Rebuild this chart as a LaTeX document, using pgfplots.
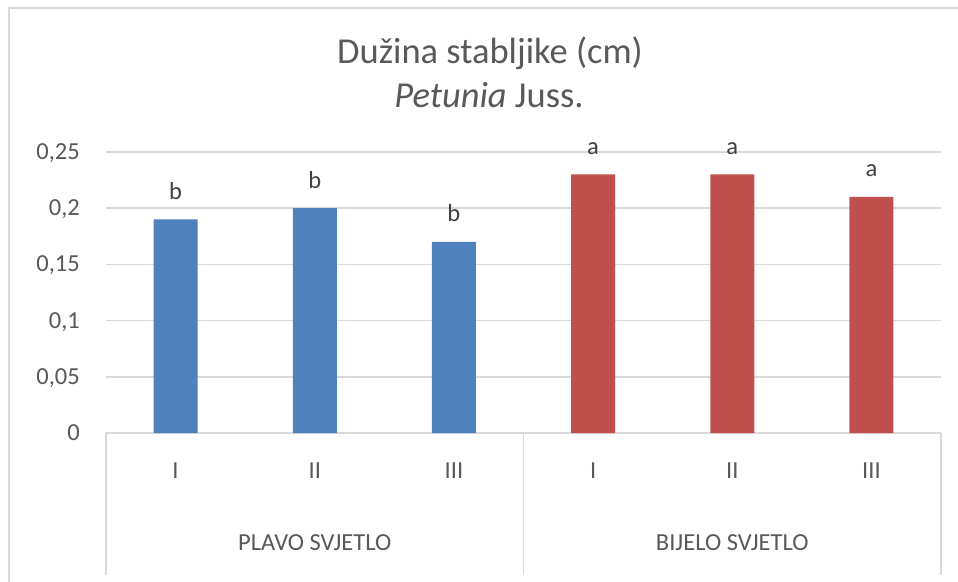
\documentclass[border=0pt]{standalone}
\usepackage{pgfplots}
\pgfplotsset{compat=1.18}
\usepackage{fontspec}
\setmainfont{Carlito}
\definecolor{txt}{HTML}{595959}
\definecolor{lbl}{HTML}{404040}
\definecolor{gridgray}{HTML}{D9D9D9}
\definecolor{xlblue}{HTML}{4F81BD}
\definecolor{xlred}{HTML}{C0504D}
\begin{document}
\begin{tikzpicture}[x=1pt,y=1pt]
\useasboundingbox (0,0) rectangle (958,581);
\fill[white] (0,0) rectangle (958,581);
\draw[gridgray, line width=1.5pt] (9,-20) -- (9,573) -- (990,573);
\node[txt, anchor=base, font=\fontsize{36.5}{40}\selectfont] at (490,517) {Dužina stabljike (cm)};
\node[txt, anchor=base, font=\fontsize{36.5}{40}\selectfont] at (489,473) {\textit{Petunia} Juss.};
\begin{axis}[
  at={(106pt,148pt)}, anchor=south west,
  scale only axis, width=835pt, height=281pt,
  xmin=-0.5, xmax=5.5, ymin=0, ymax=0.25,
  clip=false,
  axis line style={draw=none},
  major tick length=0pt,
  ymajorgrids,
  major grid style={draw=gridgray, line width=1.5pt},
  ytick={0,0.05,0.1,0.15,0.2,0.25},
  yticklabels={0,{0,05},{0,1},{0,15},{0,2},{0,25}},
  yticklabel style={anchor=base east, inner sep=0pt, xshift=-26pt, yshift=-7.5pt, text=txt, font=\fontsize{24.5}{28}\selectfont},
  xtick={0,1,2,3,4,5},
  xticklabels={I,II,III,I,II,III},
  xticklabel style={anchor=base, inner sep=0pt, yshift=-45pt, text=txt, font=\fontsize{24.5}{28}\selectfont},
  ybar, bar width=44pt, bar shift=0pt,
  nodes near coords,
  point meta=explicit symbolic,
  every node near coord/.append style={anchor=base, inner sep=0pt, yshift=20pt, text=lbl, font=\fontsize{24.5}{28}\selectfont},
]
\addplot[draw=none, fill=xlblue] coordinates {(0,0.19) [b] (1,0.20) [b] (2,0.17) [b]};
\addplot[draw=none, fill=xlred] coordinates {(3,0.23) [a] (4,0.23) [a] (5,0.21) [a]};
\draw[gridgray, line width=1.5pt] (axis cs:-0.5,0) -- ([yshift=-142pt]axis cs:-0.5,0);
\draw[gridgray, line width=1.5pt] (axis cs:2.5,0) -- ([yshift=-142pt]axis cs:2.5,0);
\draw[gridgray, line width=1.5pt] (axis cs:5.5,0) -- ([yshift=-142pt]axis cs:5.5,0);
\node[anchor=base, text=txt, font=\fontsize{24.5}{28}\selectfont] at ([yshift=-117pt]axis cs:1,0) {PLAVO SVJETLO};
\node[anchor=base, text=txt, font=\fontsize{24.5}{28}\selectfont] at ([yshift=-117pt]axis cs:4,0) {BIJELO SVJETLO};
\end{axis}
\end{tikzpicture}
\end{document}
